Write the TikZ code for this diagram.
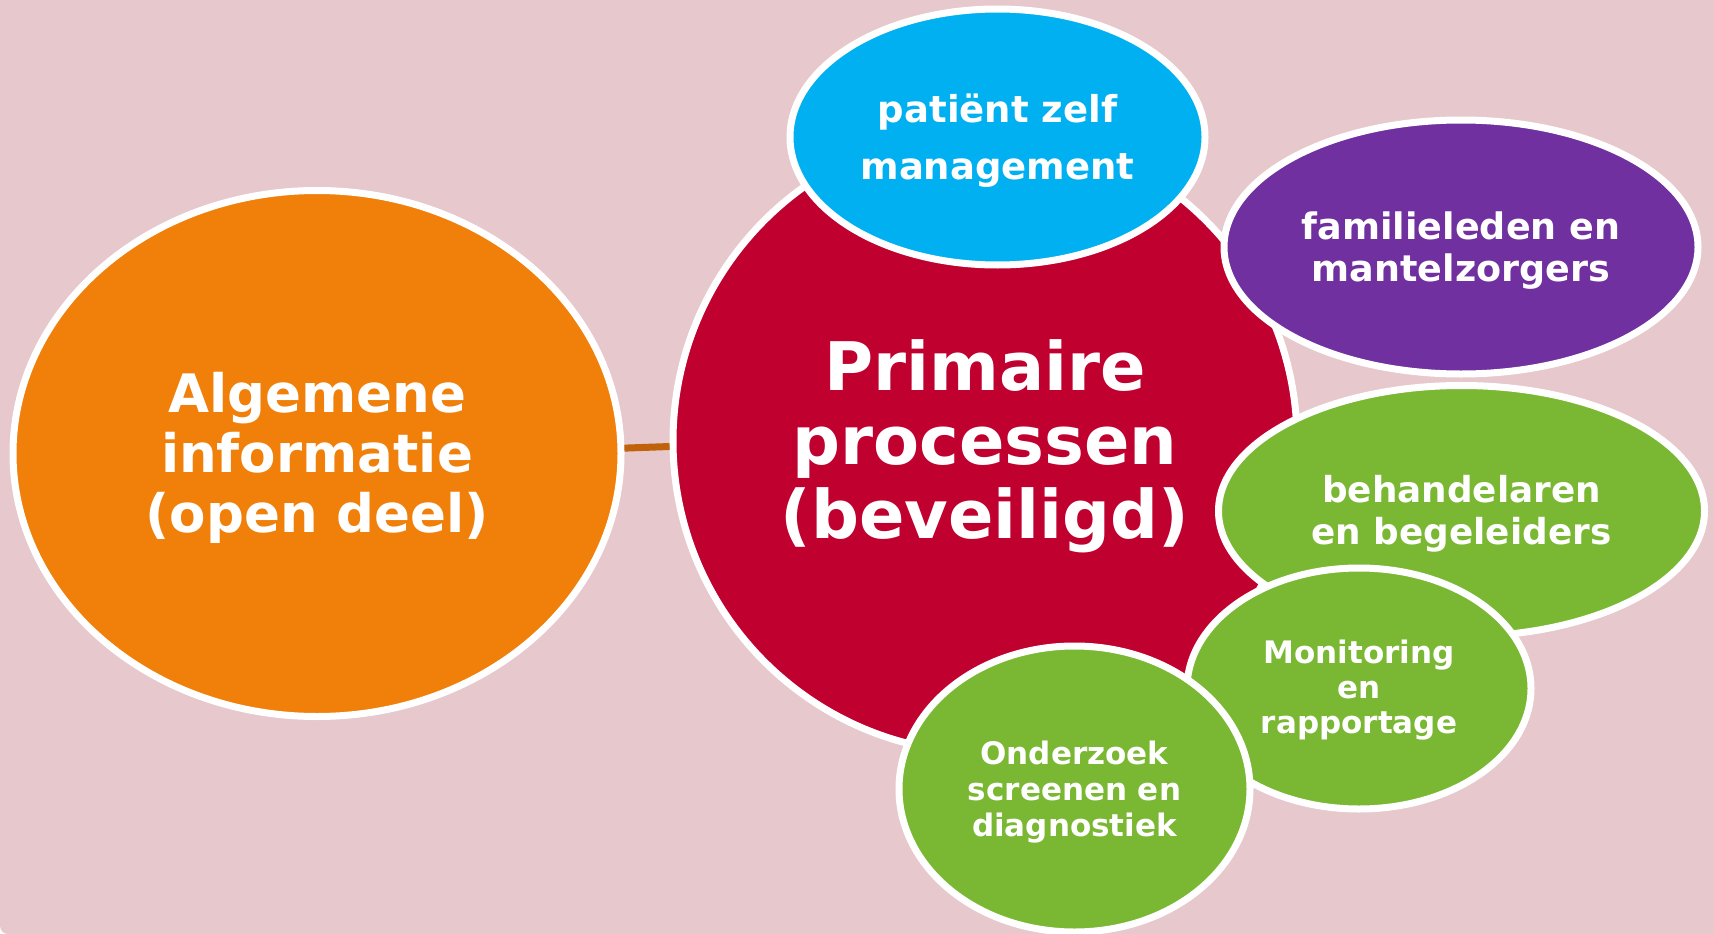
\documentclass[tikz,border=0pt]{standalone}
\usepackage{fontspec}
\setmainfont{DejaVu Sans}
\usetikzlibrary{shapes.geometric}
\definecolor{bgpink}{HTML}{E6C8CD}
\definecolor{corange}{HTML}{F0800A}
\definecolor{cred}{HTML}{C0002E}
\definecolor{cblue}{HTML}{00B0F0}
\definecolor{cpurple}{HTML}{7030A0}
\definecolor{cgreen}{HTML}{7AB833}
\definecolor{clink}{HTML}{C0620A}
\tikzset{
  bubble/.style={ellipse, draw=white, line width=7pt, inner sep=0pt},
  lbl/.style={text=white, align=center, inner sep=0pt},
  link/.style={draw=clink, line width=7pt}
}
\begin{document}
\begin{tikzpicture}[x=1pt, y=-1pt]
\useasboundingbox (0,0) rectangle (1714,934);
\fill[bgpink, rounded corners=8pt] (0,0) rectangle (1714,934);
\fill[bgpink] (0,0) rectangle (100,100);
\fill[bgpink] (1614,0) rectangle (1714,100);
\fill[bgpink] (1614,834) rectangle (1714,934);

\node[bubble, fill=corange, minimum width=608pt, minimum height=526pt] (alg) at (317,453.5) {};
\node[lbl, font=\bfseries\fontsize{53}{60}\selectfont] (alg-t) at ([yshift=-4pt]alg.center)
  {Algemene\\informatie\\(open deel)};

\node[bubble, fill=cred, minimum width=624pt, minimum height=624pt] (prim) at (985,441) {};
\node[lbl, font=\bfseries\fontsize{67}{74}\selectfont] (prim-t) at ([yshift=-5pt]prim.center)
  {Primaire\\processen\\(beveiligd)};

\node[bubble, fill=cblue, minimum width=415pt, minimum height=256pt] (pat) at (997.5,137) {};
\node[lbl, font=\bfseries\fontsize{37}{57}\selectfont] (pat-t) at ([yshift=-4pt]pat.center)
  {patiënt zelf\\management};

\node[bubble, fill=cpurple, minimum width=474pt, minimum height=254pt] (fam) at (1461,247) {};
\node[lbl, font=\bfseries\fontsize{36.5}{42}\selectfont] (fam-t) at ([yshift=-4pt]fam.center)
  {familieleden en\\mantelzorgers};

\node[bubble, fill=cgreen, minimum width=486pt, minimum height=251pt] (beh) at (1461.5,511) {};
\node[lbl, font=\bfseries\fontsize{35.8}{42}\selectfont] (beh-t) at ([yshift=-3pt]beh.center)
  {behandelaren\\en begeleiders};

\node[bubble, fill=cgreen, minimum width=344pt, minimum height=241pt] (mon) at (1359,688.5) {};
\node[lbl, font=\bfseries\fontsize{31}{35}\selectfont] (mon-t) at ([yshift=-2pt]mon.center)
  {Monitoring\\en\\rapportage};

\node[bubble, fill=cgreen, minimum width=351pt, minimum height=286pt] (ond) at (1074.5,789) {};
\node[lbl, font=\bfseries\fontsize{31}{36}\selectfont] (ond-t) at ([yshift=-3pt]ond.center)
  {Onderzoek\\screenen en\\diagnostiek};

\draw[link] (alg.1) -- (prim.181);
\end{tikzpicture}
\end{document}
